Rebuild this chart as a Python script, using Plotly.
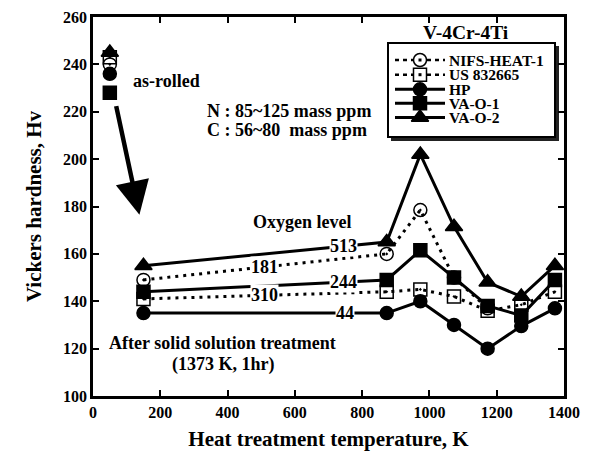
import plotly.graph_objects as go

# ---- data ----
as_rolled_T = 50
ss_T = [150, 873, 973, 1073, 1173, 1273, 1373]
nifs_T = [150, 873, 973, 1073, 1173]

nifs_asrolled = 240
us_asrolled = 243
hp_asrolled = 236
vao1_asrolled = 228
vao2_asrolled = 245

nifs_hv = [149, 160, 178.5, 150, 137]
us_hv = [141, 144, 145, 142, 136, 138.5, 144]
hp_hv = [135, 135, 140, 130, 120, 129.5, 137]
vao1_hv = [144, 149, 161.5, 150, 138, 134, 149]
vao2_hv = [155, 165, 202, 171.5, 148, 142, 155]

series_names = ["NIFS-HEAT-1", "US 832665", "HP", "VA-O-1", "VA-O-2"]
oxygen_labels = ["181", "310", "44", "244", "513"]
oxygen_label_T = [510, 510, 749, 746, 746]

x_ticks = [0, 200, 400, 600, 800, 1000, 1200, 1400]
y_ticks = [100, 120, 140, 160, 180, 200, 220, 240, 260]

FONT = "Liberation Serif"

def with_asrolled(T, hv, ar):
    # as-rolled point separated from the solution-treated curve by a gap
    return [as_rolled_T, 100] + list(T), [ar, None] + list(hv)

specs = [
    (nifs_T, nifs_hv, nifs_asrolled, "circle-open-dot", "3px,5px", 13),
    (ss_T, us_hv, us_asrolled, "square-open-dot", "3px,5px", 13),
    (ss_T, hp_hv, hp_asrolled, "circle", "solid", 13),
    (ss_T, vao1_hv, vao1_asrolled, "square", "solid", 13),
    (ss_T, vao2_hv, vao2_asrolled, "triangle-up", "solid", 15),
]

fig = go.Figure()
for name, (T, hv, ar, sym, dash, size) in zip(series_names, specs):
    xs, ys = with_asrolled(T, hv, ar)
    fig.add_trace(go.Scatter(
        x=xs, y=ys, name=name, mode="lines+markers",
        connectgaps=False, showlegend=False,
        line=dict(color="black", width=3, dash=dash),
        marker=dict(symbol=sym, size=size, color="black",
                    line=dict(color="black", width=1.5)),
    ))

# oxygen level labels on the lines
line_for_label = {0: (nifs_T, nifs_hv), 1: (ss_T, us_hv), 2: (ss_T, hp_hv),
                  3: (ss_T, vao1_hv), 4: (ss_T, vao2_hv)}
for i, (lab, t) in enumerate(zip(oxygen_labels, oxygen_label_T)):
    T, hv = line_for_label[i]
    y = hv[0] + (hv[1] - hv[0]) * (t - T[0]) / (T[1] - T[0])
    fig.add_annotation(x=t, y=y, text=f"<b>{lab}</b>", showarrow=False,
                       bgcolor="white", borderpad=0,
                       font=dict(family=FONT, size=18, color="black"))

def txt(x, y, s, size=18, xanchor="left"):
    fig.add_annotation(x=x, y=y, text=f"<b>{s}</b>", showarrow=False,
                       xanchor=xanchor, yanchor="middle",
                       font=dict(family=FONT, size=size, color="black"))

txt(1109, 253.4, "V-4Cr-4Ti", size=19.5, xanchor="center")
txt(113, 233, "as-rolled", size=18)
txt(333, 220.3, "N : 85~125 mass ppm", size=18)
txt(333, 212.2, "C : 56~80\u00a0 mass ppm", size=18)
txt(621, 173.5, "Oxygen level", size=18, xanchor="center")
txt(42, 122.5, "After solid solution treatment", size=18)
txt(229, 113.2, "(1373 K, 1hr)", size=18)

# arrow
fig.add_annotation(x=138, y=176.5, ax=68, ay=223, axref="x", ayref="y",
                   xref="x", yref="y", text="", showarrow=True,
                   arrowhead=2, arrowsize=1.5, arrowwidth=4.5,
                   arrowcolor="black", standoff=0)

# ---- hand-drawn legend on a pixel-scaled overlay axis ----
fig.add_shape(type="rect", xref="x2", yref="y2", x0=391, x1=559, y0=46, y1=141,
              fillcolor="#222", line=dict(width=0), layer="below")
fig.add_shape(type="rect", xref="x2", yref="y2", x0=388, x1=555, y0=43, y1=137,
              fillcolor="white", line=dict(color="black", width=2), layer="below")

leg_y = [60, 74.7, 89.3, 103.3, 117.5]
for (name, (T, hv, ar, sym, dash, size)), ly in zip(zip(series_names, specs), leg_y):
    ldash = "4px,4px" if dash != "solid" else "solid"
    fig.add_trace(go.Scatter(
        x=[395, 420, 445], y=[ly, ly, ly], xaxis="x2", yaxis="y2",
        mode="lines", showlegend=False, hoverinfo="skip",
        line=dict(color="black", width=3 if dash == "solid" else 2.5, dash=ldash),
    ))
    if "open" in sym:
        fig.add_trace(go.Scatter(
            x=[420], y=[ly], xaxis="x2", yaxis="y2", mode="markers",
            showlegend=False, hoverinfo="skip",
            marker=dict(symbol=sym.replace("-open-dot", ""), size=size, color="white",
                        line=dict(color="black", width=1.5)),
        ))
        fig.add_trace(go.Scatter(
            x=[420], y=[ly], xaxis="x2", yaxis="y2", mode="markers",
            showlegend=False, hoverinfo="skip",
            marker=dict(symbol="square", size=3, color="black"),
        ))
    else:
        fig.add_trace(go.Scatter(
            x=[420], y=[ly], xaxis="x2", yaxis="y2",
            mode="markers", showlegend=False, hoverinfo="skip",
            marker=dict(symbol=sym, size=size, color="black",
                        line=dict(color="black", width=1.5)),
        ))
    fig.add_annotation(x=447, y=ly, xref="x2", yref="y2", text=f"<b>{name}</b>",
                       showarrow=False, xanchor="left", yanchor="middle",
                       font=dict(family=FONT, size=15.5, color="black"))

axis_common = dict(showgrid=False, zeroline=False, showline=True,
                   linecolor="black", linewidth=2.5, mirror="ticks",
                   ticks="inside", ticklen=6, tickwidth=2, tickcolor="black",
                   tickfont=dict(family=FONT, size=16, color="black"))

fig.update_layout(
    width=592, height=455,
    margin=dict(l=93, r=28, t=17, b=59, autoexpand=False),
    paper_bgcolor="white", plot_bgcolor="white",
    font=dict(family=FONT, color="black"),
    xaxis=dict(range=[0, 1400], tickvals=x_ticks,
               ticktext=[f"<b>{v}</b>" for v in x_ticks],
               title=dict(text="<b>Heat treatment temperature, K</b>",
                          font=dict(family=FONT, size=21, color="black"),
                          standoff=12),
               **axis_common),
    yaxis=dict(range=[100, 260], tickvals=y_ticks,
               ticktext=[f"<b>{v}</b>" for v in y_ticks],
               title=dict(text="<b>Vickers hardness, Hv</b>",
                          font=dict(family=FONT, size=21, color="black"),
                          standoff=16),
               **axis_common),
    xaxis2=dict(overlaying="x", anchor="y2", range=[93, 564], visible=False,
                fixedrange=True),
    yaxis2=dict(overlaying="y", anchor="x2", range=[396, 17], visible=False,
                fixedrange=True),
    showlegend=False,
)

fig.write_html("out.html")
